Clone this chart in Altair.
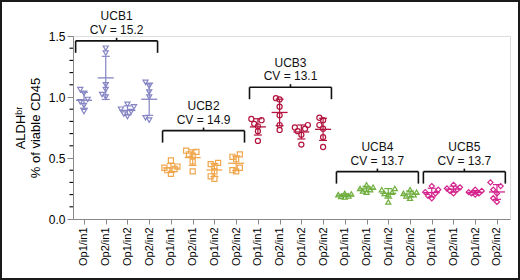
import altair as alt
import pandas as pd
import statistics as st

FONT = "Liberation Sans"

tick_labels = ["Op1/in1", "Op2/in1", "Op1/in2", "Op2/in2"] * 5
groups = ["UCB1", "UCB2", "UCB3", "UCB4", "UCB5"]
cv_values = ["15.2", "14.9", "13.1", "13.7", "13.7"]
bracket_levels = [1.46, 0.724, 1.08, 0.388, 0.388]
colors = ["#8585c4", "#f0a64c", "#b3143e", "#6fae3f", "#d4228c"]
shapes = ["triangle-down", "square", "circle", "triangle-up", "diamond"]

# replicate values per category (6 replicates each)
ucb1 = [
    [1.06, 1.03, 0.98, 0.96, 0.93, 0.88],
    [1.40, 1.36, 1.10, 1.06, 1.02, 1.00],
    [0.94, 0.92, 0.90, 0.88, 0.86, 0.84],
    [1.12, 1.09, 1.04, 1.00, 0.83, 0.81],
]
ucb2 = [
    [0.48, 0.43, 0.42, 0.41, 0.40, 0.37],
    [0.56, 0.55, 0.53, 0.52, 0.47, 0.39],
    [0.46, 0.45, 0.43, 0.39, 0.35, 0.33],
    [0.53, 0.51, 0.49, 0.42, 0.40, 0.39],
]
ucb3 = [
    [0.82, 0.81, 0.78, 0.76, 0.72, 0.64],
    [0.99, 0.98, 0.92, 0.85, 0.77, 0.73],
    [0.77, 0.75, 0.74, 0.72, 0.69, 0.61],
    [0.83, 0.81, 0.77, 0.74, 0.67, 0.59],
]
ucb4 = [
    [0.21, 0.205, 0.20, 0.19, 0.185, 0.18],
    [0.28, 0.26, 0.25, 0.24, 0.23, 0.22],
    [0.25, 0.24, 0.22, 0.21, 0.20, 0.14],
    [0.24, 0.22, 0.21, 0.20, 0.19, 0.17],
]
ucb5 = [
    [0.27, 0.24, 0.22, 0.21, 0.19, 0.17],
    [0.28, 0.26, 0.25, 0.24, 0.23, 0.21],
    [0.24, 0.23, 0.22, 0.21, 0.21, 0.20],
    [0.30, 0.27, 0.24, 0.21, 0.17, 0.14],
]
all_groups = [ucb1, ucb2, ucb3, ucb4, ucb5]
minor_ticks = [0.1, 0.2, 0.3, 0.4, 0.6, 0.7, 0.8, 0.9, 1.1, 1.2, 1.3, 1.4]


def spread(vals):
    # scatter-dot style: spread points that would overlap
    order = sorted(range(len(vals)), key=lambda i: vals[i])
    pattern = [0, -0.17, 0.17, -0.3, 0.3]
    offs = [0.0] * len(vals)
    prev, k = None, 0
    for i in order:
        if prev is not None and abs(vals[i] - vals[prev]) < 0.035:
            k += 1
        else:
            k = 0
        offs[i] = pattern[k % len(pattern)]
        prev = i
    return offs


pts, summ = [], []
pos = 1
for g, reps in zip(groups, all_groups):
    for vals in reps:
        for v, o in zip(vals, spread(vals)):
            pts.append({"group": g, "cat": pos, "xp": pos + o, "value": v})
        m = st.mean(vals)
        s = st.stdev(vals)
        summ.append({"group": g, "cat": pos, "mean": m, "lo": m - s, "hi": m + s})
        pos += 1
pts = pd.DataFrame(pts)
summ = pd.DataFrame(summ)

br = []
for i, g in enumerate(groups):
    c = 4 * i + 2.5
    lv = bracket_levels[i]
    br.append({"group": g, "cv": "CV = " + cv_values[i], "c": c,
               "l": c - 1.885, "r": c + 1.885, "lv": lv,
               "leg": lv - 0.098, "top": lv + 0.025})
br = pd.DataFrame(br)

xscale = alt.Scale(domain=[0.494, 20.6], nice=False, zero=False)
yscale = alt.Scale(domain=[0, 1.5], nice=False)
cscale = alt.Scale(domain=groups, range=colors)
sscale = alt.Scale(domain=groups, range=shapes)

label_arr = "[" + ",".join("'%s'" % t for t in tick_labels) + "]"

x_axis = alt.Axis(values=list(range(1, 21)), labelExpr=label_arr + "[datum.value-1]",
                  labelAngle=270, tickSize=5, labelFontSize=11, labelPadding=3,
                  labelOverlap=False, labelBound=False, labelFlush=False,
                  title=None, grid=False, labelFont=FONT)
y_axis = alt.Axis(values=[0, 0.5, 1.0, 1.5], format=".1f", tickSize=6, labelFontSize=12,
                  labelPadding=2, grid=False, labelFont=FONT,
                  title=["ALDHᵇʳ", "% of viable CD45"], titleFontSize=13,
                  titleFontWeight="normal", titleFont=FONT, titleLineHeight=15,
                  titlePadding=6, titleColor="black")


def X(f):
    return alt.X(f, scale=xscale, axis=x_axis)


def Y(f):
    return alt.Y(f, scale=yscale, axis=y_axis)


points = alt.Chart(pts).mark_point(filled=False, strokeWidth=1.2, opacity=1, size=26).encode(
    x=X("xp:Q"),
    y=Y("value:Q"),
    color=alt.Color("group:N", scale=cscale, legend=None),
    shape=alt.Shape("group:N", scale=sscale, legend=None),
)

base = alt.Chart(summ)
enc = dict(color=alt.Color("group:N", scale=cscale, legend=None))
mean_line = base.mark_rule(strokeWidth=1.3, xOffset=-8, x2Offset=8).encode(
    x=X("cat:Q"), x2="cat:Q", y=Y("mean:Q"), **enc)
sd_line = base.mark_rule(strokeWidth=1.2).encode(
    x=X("cat:Q"), y=Y("lo:Q"), y2="hi:Q", **enc)
cap_hi = base.mark_rule(strokeWidth=1.2, xOffset=-4, x2Offset=4).encode(
    x=X("cat:Q"), x2="cat:Q", y=Y("hi:Q"), **enc)
cap_lo = base.mark_rule(strokeWidth=1.2, xOffset=-4, x2Offset=4).encode(
    x=X("cat:Q"), x2="cat:Q", y=Y("lo:Q"), **enc)

bb = alt.Chart(br)
bh = bb.mark_rule(color="#111", strokeWidth=1.6).encode(
    x=X("l:Q"), x2="r:Q", y=Y("lv:Q"))
bl = bb.mark_rule(color="#111", strokeWidth=1.6).encode(
    x=X("l:Q"), y=Y("lv:Q"), y2="leg:Q")
brr = bb.mark_rule(color="#111", strokeWidth=1.6).encode(
    x=X("r:Q"), y=Y("lv:Q"), y2="leg:Q")
bc = bb.mark_rule(color="#111", strokeWidth=1.6).encode(
    x=X("c:Q"), y=Y("lv:Q"), y2="top:Q")
t1 = bb.mark_text(font=FONT, fontSize=12, color="#111", baseline="middle", dy=-24.5).encode(
    x=X("c:Q"), y=Y("lv:Q"), text="group:N")
t2 = bb.mark_text(font=FONT, fontSize=12, color="#111", baseline="middle", dy=-11).encode(
    x=X("c:Q"), y=Y("lv:Q"), text="cv:N")

minor = alt.Chart(pd.DataFrame({"v": minor_ticks})).mark_rule(color="black", strokeWidth=1.1).encode(
    x=alt.value(-3.5), x2=alt.value(0), y=Y("v:Q"))

frame = alt.Chart(pd.DataFrame({"a": [0]})).mark_rect(
    fillOpacity=0, stroke="#1a1a1a", strokeWidth=2).encode(
    x=alt.value(-72), x2=alt.value(446), y=alt.value(-35), y2=alt.value(243))

chart = alt.layer(
    minor, bh, bl, brr, bc, t1, t2, sd_line, cap_hi, cap_lo, mean_line, points, frame
).properties(
    width=437, height=183,
    padding={"left": 73, "top": 36, "right": 10, "bottom": 61},
    autosize=alt.AutoSizeParams(type="none"),
).configure_view(stroke=None).configure_axis(
    domainColor="black", tickColor="black", labelColor="black",
    domainWidth=1.3, tickWidth=1.3,
).configure_axisX(labelOverlap=False).configure(background="white")

chart.save("out.html", embed_options={"renderer": "svg", "actions": False})
